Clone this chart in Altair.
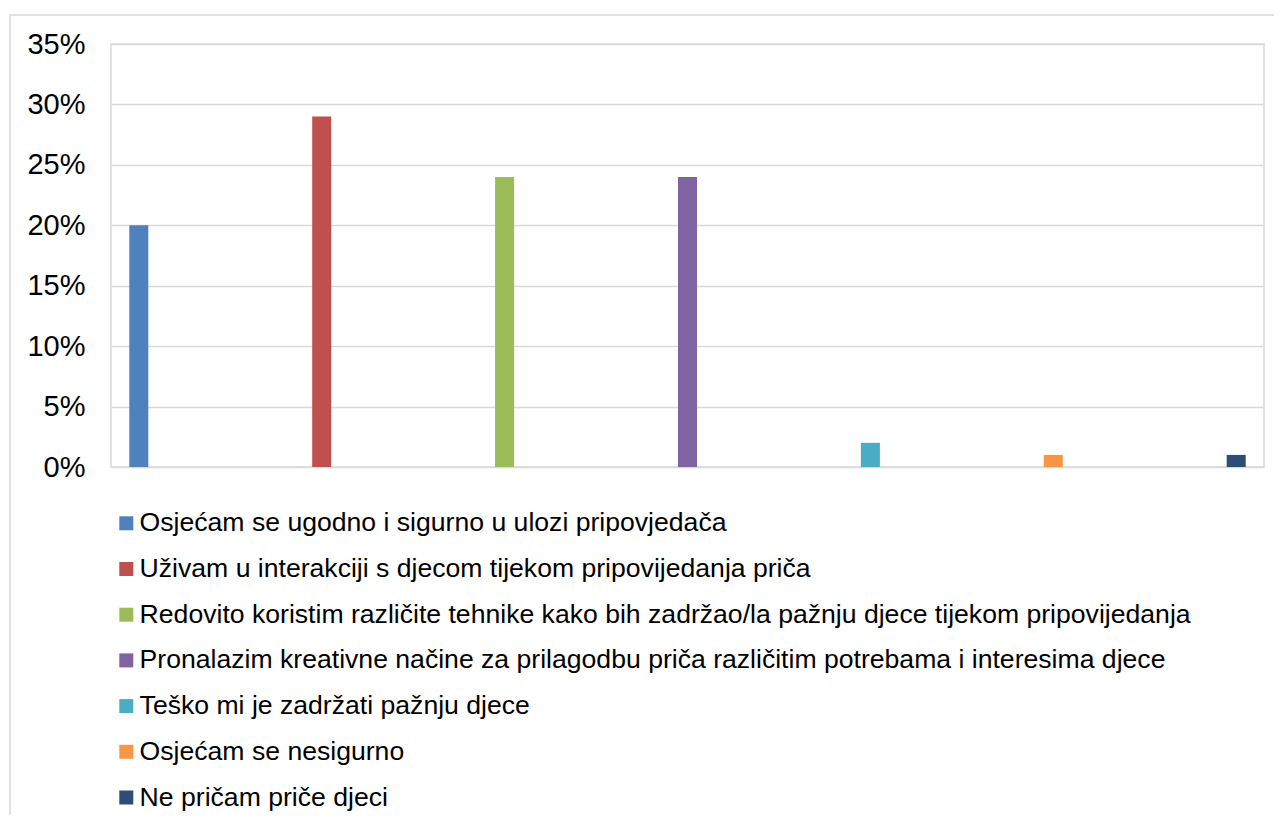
import altair as alt
import pandas as pd

categories = [
    "Osjećam se ugodno i sigurno u ulozi pripovjedača",
    "Uživam u interakciji s djecom tijekom pripovijedanja priča",
    "Redovito koristim različite tehnike kako bih zadržao/la pažnju djece tijekom pripovijedanja",
    "Pronalazim kreativne načine za prilagodbu priča različitim potrebama i interesima djece",
    "Teško mi je zadržati pažnju djece",
    "Osjećam se nesigurno",
    "Ne pričam priče djeci",
]
values = [0.20, 0.29, 0.24, 0.24, 0.02, 0.01, 0.01]
colors = ["#4F81BD", "#C0504D", "#9BBB59", "#8064A2", "#4BACC6", "#F79646", "#2C4D75"]
y_ticks = [0, 0.05, 0.10, 0.15, 0.20, 0.25, 0.30, 0.35]

df = pd.DataFrame({"cat": categories, "val": values})
FONT = "Liberation Sans"

bars = alt.Chart(df).mark_bar().encode(
    x=alt.X("cat:N", sort=categories, axis=None,
            scale=alt.Scale(paddingInner=0.896, paddingOuter=0.1)),
    y=alt.Y("val:Q", scale=alt.Scale(domain=[0, 0.35], nice=False),
            axis=alt.Axis(values=y_ticks, format=".0%", title=None, ticks=False,
                          domain=False, labelFontSize=29, labelFont=FONT,
                          labelColor="#000000", labelPadding=26,
                          gridColor="#d9d9d9", gridWidth=1.5)),
    color=alt.Color("cat:N", sort=categories,
                    scale=alt.Scale(domain=categories, range=colors),
                    legend=alt.Legend(title=None, orient="none", legendX=2, legendY=466,
                                      padding=0, direction="vertical", columns=1,
                                      symbolType="square", symbolSize=196,
                                      symbolStrokeWidth=0, labelFontSize=26.6,
                                      labelFont=FONT, labelColor="#000000",
                                      labelOffset=0, rowPadding=18.7, labelLimit=1200)),
)

frame = alt.Chart(pd.DataFrame({"k": [0]})).mark_rect(
    fillOpacity=0, stroke="#d9d9d9", strokeWidth=1.5
).encode(
    x=alt.value(-101), x2=alt.value(1170), y=alt.value(-29), y2=alt.value(900)
)

chart = alt.layer(frame, bars).properties(
    width=1153, height=423,
    autosize=alt.AutoSizeParams(type="none"),
    padding={"left": 103, "top": 36, "right": 10, "bottom": 348},
).configure_view(stroke="#d9d9d9", strokeWidth=1.5)

chart.save("out.html", embed_options={"renderer": "svg", "actions": False})
